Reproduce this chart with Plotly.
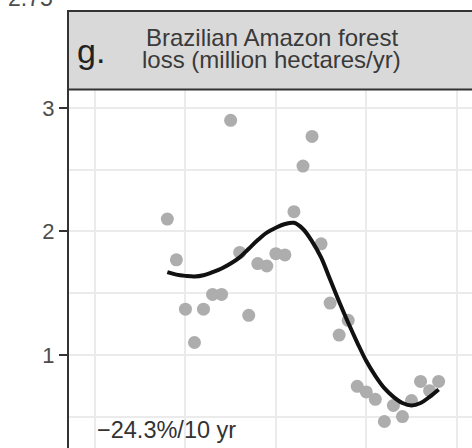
import plotly.graph_objects as go

years = list(range(1988, 2019))
forest_loss = [2.10, 1.77, 1.37, 1.10, 1.37, 1.49, 1.49, 2.90, 1.83, 1.32,
               1.74, 1.72, 1.82, 1.81, 2.16, 2.53, 2.77, 1.90, 1.42, 1.16,
               1.28, 0.745, 0.70, 0.64, 0.46, 0.59, 0.50, 0.63, 0.785, 0.71, 0.785]
smooth_fit = [1.67, 1.65, 1.64, 1.635, 1.645, 1.67, 1.70, 1.74, 1.79, 1.86,
              1.93, 1.99, 2.03, 2.06, 2.07, 2.02, 1.92, 1.79, 1.61, 1.43,
              1.26, 1.10, 0.95, 0.83, 0.73, 0.66, 0.61, 0.59, 0.61, 0.66, 0.72]
y_ticks = [1, 2, 3]
y_tick_labels = ["1", "2", "3"]
title_lines = ["Brazilian Amazon forest", "loss (million hectares/yr)"]
panel_tag = "g."
trend_label = "\u221224.3%/10 yr"
upper_label = "2.75"

FONT = "Liberation Sans, Arial, Helvetica, sans-serif"
W, H = 472, 448
L, T = 69, 90
PW, PH = W - L, H - T


def px(x):
    return (x - L) / PW


def py(y):
    return (H - y) / PH


fig = go.Figure()
fig.add_trace(go.Scatter(x=years, y=forest_loss, mode="markers",
                         marker=dict(size=13, color="#adadad", line=dict(width=0)),
                         hoverinfo="skip", showlegend=False))
fig.add_trace(go.Scatter(x=years, y=smooth_fit, mode="lines",
                         line=dict(color="#111111", width=4, shape="spline", smoothing=1.0),
                         hoverinfo="skip", showlegend=False))

fig.update_layout(
    width=W, height=H,
    margin=dict(l=L, r=0, t=T, b=0, pad=0),
    paper_bgcolor="white", plot_bgcolor="white",
    font=dict(family=FONT, color="#4d4d4d"),
    showlegend=False,
    xaxis=dict(range=[1977.125, 2021.69], showticklabels=False, ticks="",
               showgrid=True, gridcolor="#ebebeb", gridwidth=2,
               tick0=1980, dtick=10, zeroline=False, showline=False),
    yaxis=dict(range=[0.2454, 3.146], tickvals=y_ticks, ticktext=y_tick_labels,
               ticks="outside", ticklen=8, tickwidth=2, tickcolor="#333333",
               tickfont=dict(size=22, color="#4d4d4d", family=FONT),
               showgrid=True, gridcolor="#ebebeb", gridwidth=2,
               minor=dict(dtick=0.5, tick0=0, showgrid=True, gridcolor="#ebebeb",
                          gridwidth=2, ticks=""),
               zeroline=False, showline=True, linecolor="#333333", linewidth=2),
)

# facet strip
fig.add_shape(type="rect", xref="paper", yref="paper",
              x0=px(68), x1=px(490), y0=py(89.5), y1=py(11),
              fillcolor="#d9d9d9", line=dict(color="#333333", width=2), layer="above")

fig.add_annotation(xref="paper", yref="paper", x=px(271.5), y=py(37.5),
                   text=title_lines[0], showarrow=False, xanchor="center", yanchor="middle",
                   font=dict(size=24, color="#3a3a3a", family=FONT))
fig.add_annotation(xref="paper", yref="paper", x=px(271.5), y=py(60),
                   text=title_lines[1], showarrow=False, xanchor="center", yanchor="middle",
                   font=dict(size=24, color="#3a3a3a", family=FONT))
fig.add_annotation(xref="paper", yref="paper", x=px(75), y=py(51),
                   text=panel_tag, showarrow=False, xanchor="left", yanchor="middle",
                   font=dict(size=34, color="#222222", family=FONT))
fig.add_annotation(xref="paper", yref="paper", x=px(55), y=py(-2),
                   text=upper_label, showarrow=False, xanchor="right", yanchor="middle",
                   font=dict(size=23, color="#4d4d4d", family=FONT))
fig.add_annotation(xref="paper", yref="paper", x=px(95), y=py(430),
                   text=trend_label, showarrow=False, xanchor="left", yanchor="middle",
                   font=dict(size=23.5, color="#333333", family=FONT))

fig.write_html("out.html")
